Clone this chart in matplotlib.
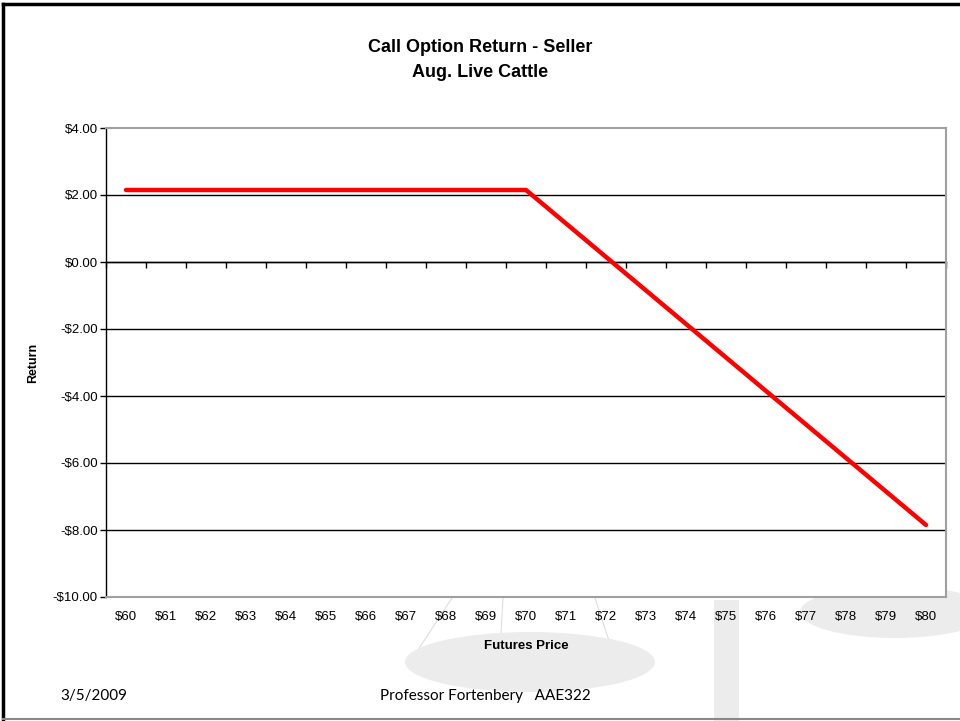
import matplotlib.pyplot as plt
from matplotlib.patches import Ellipse, Rectangle
from matplotlib.lines import Line2D

# datos del grafico
precios = ['$60', '$61', '$62', '$63', '$64', '$65', '$66', '$67', '$68', '$69', '$70',
           '$71', '$72', '$73', '$74', '$75', '$76', '$77', '$78', '$79', '$80']
retorno = [2.15, 2.15, 2.15, 2.15, 2.15, 2.15, 2.15, 2.15, 2.15, 2.15, 2.15,
           1.15, 0.15, -0.85, -1.85, -2.85, -3.85, -4.85, -5.85, -6.85, -7.85]
y_ticks = [-10, -8, -6, -4, -2, 0, 2, 4]

plt.rcParams['font.family'] = ['Liberation Sans', 'DejaVu Sans']

fig = plt.figure(figsize=(9.6, 7.21), dpi=100)
W, H = 960, 721

def fx(x):
    return x / W

def fy(y):
    return 1 - y / H

# fondo: balanza gris tenue (detras de todo)
gris = '#ececec'
fig.patches.append(Rectangle((fx(714), fy(721)), 25 / W, 121 / H, transform=fig.transFigure,
                             facecolor=gris, edgecolor='none', zorder=-2))
fig.patches.append(Ellipse((fx(530), fy(662)), 250 / W, 60 / H, transform=fig.transFigure,
                           facecolor=gris, edgecolor='none', zorder=-2))
fig.patches.append(Ellipse((fx(895), fy(612)), 190 / W, 52 / H, transform=fig.transFigure,
                           facecolor=gris, edgecolor='none', zorder=-2))
for x0, x1 in [(452, 418), (503, 500), (595, 612)]:
    fig.lines.append(Line2D([fx(x0), fx(x1)], [fy(598), fy(650)], transform=fig.transFigure,
                            color='#dddddd', lw=0.8, zorder=-2))

# borde de la diapositiva
fig.lines.append(Line2D([fx(3), fx(960)], [fy(4), fy(4)], transform=fig.transFigure,
                        color='black', lw=2.5))
fig.lines.append(Line2D([fx(3), fx(3)], [fy(4), fy(719)], transform=fig.transFigure,
                        color='black', lw=2.5))
fig.lines.append(Line2D([fx(3), fx(960)], [fy(719), fy(719)], transform=fig.transFigure,
                        color='#888888', lw=1.5))

ax = fig.add_axes([fx(106), fy(597), (946 - 106) / W, (597 - 128) / H])
ax.set_facecolor('white')

x = list(range(len(precios)))
ax.plot(x, retorno, color='#ff0000', lw=3.2, solid_capstyle='round', zorder=3)

ax.set_xlim(-0.5, len(precios) - 0.5)
ax.set_ylim(-10, 4)
ax.set_yticks(y_ticks)
ax.set_yticklabels([('-$%.2f' % abs(v)) if v < 0 else ('$%.2f' % v) for v in y_ticks], fontsize=9.5)
ax.set_xticks(x)
ax.set_xticklabels(precios, fontsize=9.5)
ax.tick_params(axis='x', length=0, pad=10)
ax.tick_params(axis='y', length=4, width=1, direction='out', color='black', pad=2)

for v in y_ticks[1:-1]:
    ax.axhline(v, color='black', lw=1, zorder=1)

for s in ['top', 'right', 'bottom']:
    ax.spines[s].set_color('#a0a0a0')
    ax.spines[s].set_linewidth(1.5)
ax.spines['left'].set_color('black')
ax.spines['left'].set_linewidth(1)

# eje de categorias cruzando en cero
sec = ax.secondary_xaxis((0 - (-10)) / 14)
sec.set_xticks([i - 0.5 for i in range(len(precios) + 1)])
sec.set_xticklabels([])
sec.tick_params(length=4, width=1, direction='in', color='black')
for s in sec.spines.values():
    s.set_color('black')
    s.set_linewidth(1)

ax.set_xlabel('Futures Price', fontsize=9.5, fontweight='bold', labelpad=12)
ax.set_ylabel('Return', fontsize=9, fontweight='bold', labelpad=10)

fig.text(0.5, fy(60), 'Call Option Return - Seller\nAug. Live Cattle', ha='center', va='center',
         fontsize=13, fontweight='bold', linespacing=1.55)

fig.text(fx(60), fy(696), '3/5/2009', ha='left', va='center', fontsize=11, family='Lato')
fig.text(fx(485), fy(696), 'Professor Fortenbery   AAE322', ha='center', va='center',
         fontsize=11, family='Lato')

fig.savefig('out.png', dpi=100)
